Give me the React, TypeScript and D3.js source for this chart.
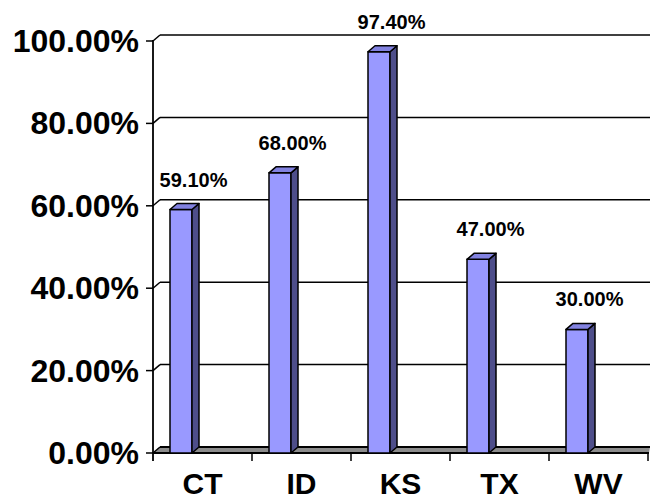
import React from "react";
import * as d3 from "d3";

const categories = ["CT", "ID", "KS", "TX", "WV"];
const values = [59.1, 68.0, 97.4, 47.0, 30.0];
const yTicks = [0, 20, 40, 60, 80, 100];

const W = 650;
const H = 502;
const FONT = "'Liberation Sans', Arial, sans-serif";

export default function App() {
  const x0 = 153;
  const x1 = 648;
  const yBase = 453;
  const yTop = 41;
  const dx = 7;
  const dy = -6;

  const x = d3.scaleBand<string>().domain(categories).range([x0, x1]).paddingInner(0).paddingOuter(0);
  const y = d3.scaleLinear().domain([0, 100]).range([yBase, yTop]);
  const fmt = (v: number) => d3.format(".2f")(v) + "%";

  const barOffset = 17;
  const barW = 22;

  return (
    <svg width={W} height={H} style={{ position: "absolute", left: 0, top: 0, background: "#fff" }}>
      {/* floor */}
      <polygon
        points={`${x0},${yBase} ${x1 + 1},${yBase} ${x1 + 2},${yBase + dy} ${x0 + dx},${yBase + dy}`}
        fill="#8c8c8c"
      />
      <line x1={x0 + dx} x2={W} y1={yBase + dy} y2={yBase + dy} stroke="#000" strokeWidth={1.8} />
      <line x1={x0} x2={x1 + 1} y1={yBase} y2={yBase} stroke="#000" strokeWidth={1.8} />
      <line x1={x0} x2={x0 + dx} y1={yBase} y2={yBase + dy} stroke="#000" strokeWidth={1.5} />
      {/* gridlines */}
      {yTicks.filter((t) => t > 0).map((t) => (
        <g key={t}>
          <line x1={x0} y1={y(t)} x2={x0 + dx} y2={y(t) + dy} stroke="#000" strokeWidth={1.5} />
          <line x1={x0 + dx} x2={W} y1={y(t) + dy} y2={y(t) + dy} stroke="#000" strokeWidth={1.5} />
        </g>
      ))}
      {/* y axis */}
      <line x1={x0} x2={x0} y1={yTop - 1} y2={yBase + 8} stroke="#000" strokeWidth={1.8} />
      {yTicks.map((t) => (
        <g key={t}>
          <line x1={x0 - 7} x2={x0} y1={y(t)} y2={y(t)} stroke="#000" strokeWidth={1.5} />
          <text
            x={139}
            y={y(t)}
            textAnchor="end"
            dominantBaseline="central"
            fontFamily={FONT}
            fontWeight="bold"
            fontSize={32}
            fill="#000"
          >
            {fmt(t)}
          </text>
        </g>
      ))}
      {/* category ticks */}
      {categories.map((c) => (
        <line key={c} x1={(x(c) as number) + x.bandwidth()} x2={(x(c) as number) + x.bandwidth()} y1={yBase} y2={yBase + 8} stroke="#000" strokeWidth={1.5} />
      ))}
      {/* bars */}
      {categories.map((c, i) => {
        const v = values[i];
        const bx0 = (x(c) as number) + barOffset;
        const bx1 = bx0 + barW;
        const by = y(v);
        return (
          <g key={c} stroke="#000" strokeWidth={1.5} strokeLinejoin="round">
            <rect x={bx0} y={by} width={barW} height={yBase - by} fill="#9999ff" />
            <polygon
              points={`${bx1},${by} ${bx1 + dx},${by + dy} ${bx1 + dx},${yBase + dy} ${bx1},${yBase}`}
              fill="#4e4e8a"
            />
            <polygon
              points={`${bx0},${by} ${bx0 + dx},${by + dy} ${bx1 + dx},${by + dy} ${bx1},${by}`}
              fill="#8282e0"
            />
          </g>
        );
      })}
      {/* data labels */}
      {categories.map((c, i) => {
        const v = values[i];
        const cx = (x(c) as number) + x.bandwidth() / 2 - 9;
        return (
          <text
            key={c}
            x={cx}
            y={y(v) - 30}
            textAnchor="middle"
            dominantBaseline="central"
            fontFamily={FONT}
            fontWeight="bold"
            fontSize={20}
            fill="#000"
          >
            {fmt(v)}
          </text>
        );
      })}
      {/* category labels */}
      {categories.map((c) => (
        <text
          key={c}
          x={(x(c) as number) + x.bandwidth() / 2}
          y={494}
          textAnchor="middle"
          fontFamily={FONT}
          fontWeight="bold"
          fontSize={30}
          fill="#000"
        >
          {c}
        </text>
      ))}
    </svg>
  );
}
